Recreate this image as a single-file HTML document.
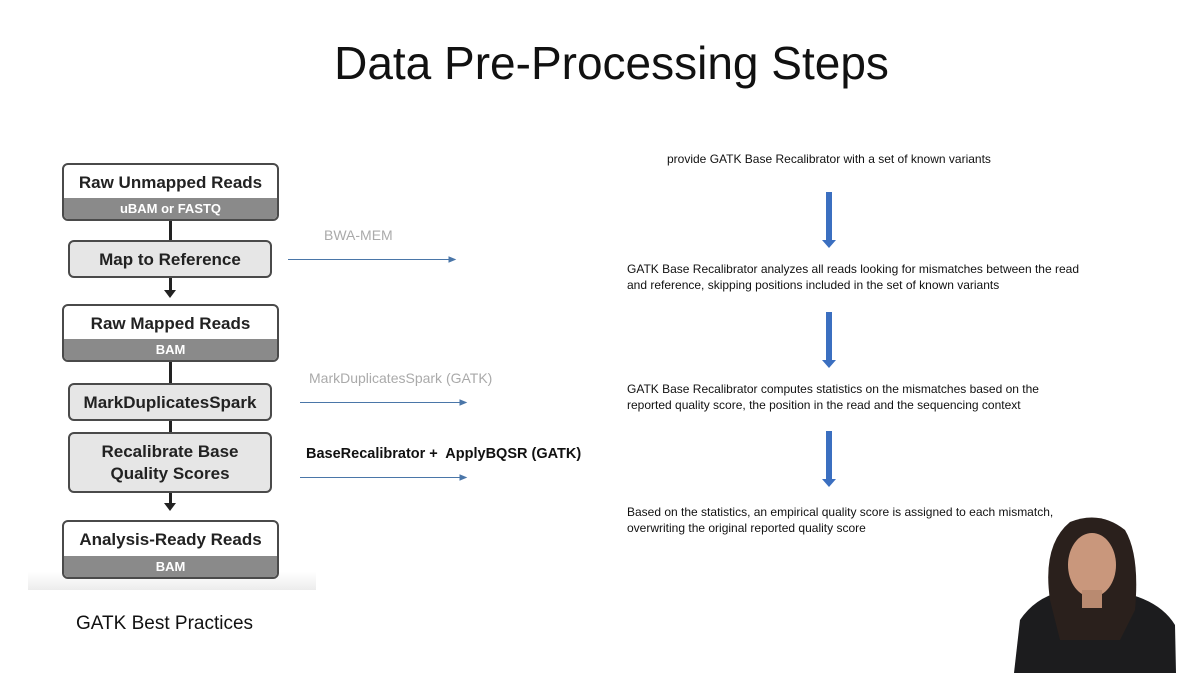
<!DOCTYPE html>
<html><head><meta charset="utf-8"><style>
body{margin:0;width:1197px;height:673px;background:#fff;position:relative;overflow:hidden;font-family:"Liberation Sans",sans-serif;}
.a{position:absolute}
.box{position:absolute;border:2px solid #4a4a4a;border-radius:6px;box-sizing:border-box;text-align:center;font-weight:bold;color:#222;overflow:hidden;font-size:17px}
.wb{background:#fff}
.gb{background:#e6e6e6}
.band{position:absolute;left:0;right:0;bottom:0;background:#8a8a8a;color:#fff;font-size:13px}
.t{position:absolute;font-size:12px;color:#111;line-height:16px;white-space:nowrap}
</style></head><body>
<div class="a" style="left:0;top:36px;width:1223px;text-align:center;font-size:46px;color:#111">Data Pre-Processing Steps</div>
<div class="a" style="left:28px;top:572px;width:288px;height:18px;background:linear-gradient(#fff,#ececec)"></div>
<div class="a" style="left:169px;top:220px;width:3px;height:20px;background:#222"></div>
<div class="a" style="left:169px;top:278px;width:3px;height:14px;background:#222"></div>
<div class="a" style="left:164px;top:290px;width:0;height:0;border-left:6px solid transparent;border-right:6px solid transparent;border-top:8px solid #222"></div>
<div class="a" style="left:169px;top:361px;width:3px;height:22px;background:#222"></div>
<div class="a" style="left:169px;top:420px;width:3px;height:12px;background:#222"></div>
<div class="a" style="left:169px;top:492px;width:3px;height:12px;background:#222"></div>
<div class="a" style="left:164px;top:503px;width:0;height:0;border-left:6px solid transparent;border-right:6px solid transparent;border-top:8px solid #222"></div>
<div class="box wb" style="left:62px;top:163px;width:217px;height:58px"><div style="margin-top:8px">Raw Unmapped Reads</div><div class="band" style="height:21px;line-height:21px">uBAM or FASTQ</div></div>
<div class="box gb" style="left:68px;top:240px;width:204px;height:38px;line-height:35px">Map to Reference</div>
<div class="box wb" style="left:62px;top:304px;width:217px;height:58px"><div style="margin-top:8px">Raw Mapped Reads</div><div class="band" style="height:21px;line-height:21px">BAM</div></div>
<div class="box gb" style="left:68px;top:383px;width:204px;height:38px;line-height:35px">MarkDuplicatesSpark</div>
<div class="box gb" style="left:68px;top:432px;width:204px;height:61px;line-height:22px;padding-top:7px">Recalibrate Base<br>Quality Scores</div>
<div class="box wb" style="left:62px;top:520px;width:217px;height:59px"><div style="margin-top:8px">Analysis-Ready Reads</div><div class="band" style="height:21px;line-height:21px">BAM</div></div>
<div class="a" style="left:76px;top:613px;font-size:19px;color:#111">GATK Best Practices</div>
<div class="a" style="left:324px;top:227px;font-size:14px;color:#aaa">BWA-MEM</div>
<div class="a" style="left:309px;top:370px;font-size:14px;color:#aaa">MarkDuplicatesSpark (GATK)</div>
<div class="a" style="left:306px;top:446px;font-size:14.5px;font-weight:bold;color:#111">BaseRecalibrator +&nbsp; ApplyBQSR (GATK)</div>
<svg class="a" style="left:0;top:0" width="1197" height="673">
<g stroke="#4a76a8" stroke-width="1" fill="#4a76a8">
<line x1="288" y1="259.5" x2="452" y2="259.5"/><polygon points="455,259.5 449,257 449,262"/>
<line x1="300" y1="402.5" x2="463" y2="402.5"/><polygon points="466,402.5 460,400 460,405"/>
<line x1="300" y1="477.5" x2="463" y2="477.5"/><polygon points="466,477.5 460,475 460,480"/>
</g>
<g fill="#3b6fc0">
<rect x="826" y="192" width="6" height="49"/><polygon points="822,240 836,240 829,248"/>
<rect x="826" y="312" width="6" height="49"/><polygon points="822,360 836,360 829,368"/>
<rect x="826" y="431" width="6" height="49"/><polygon points="822,479 836,479 829,487"/>
</g>
<path d="M1014,673 L1020,620 Q1035,598 1060,592 L1120,592 Q1160,600 1175,625 L1176,673 Z" fill="#1c1c1e"/>
<path d="M1050,600 Q1042,545 1070,522 Q1100,510 1125,530 Q1140,555 1135,610 L1120,640 L1060,640 Z" fill="#2a201c"/>
<ellipse cx="1092" cy="565" rx="24" ry="32" fill="#c9977c"/>
<rect x="1082" y="590" width="20" height="18" fill="#b98a70"/>
</svg>
<div class="t" style="left:667px;top:151px">provide GATK Base Recalibrator with a set of known variants</div>
<div class="t" style="left:627px;top:261px">GATK Base Recalibrator analyzes all reads looking for mismatches between the read<br>and reference, skipping positions included in the set of known variants</div>
<div class="t" style="left:627px;top:381px">GATK Base Recalibrator computes statistics on the mismatches based on the<br>reported quality score, the position in the read and the sequencing context</div>
<div class="t" style="left:627px;top:504px">Based on the statistics, an empirical quality score is assigned to each mismatch,<br>overwriting the original reported quality score</div>
</body></html>
